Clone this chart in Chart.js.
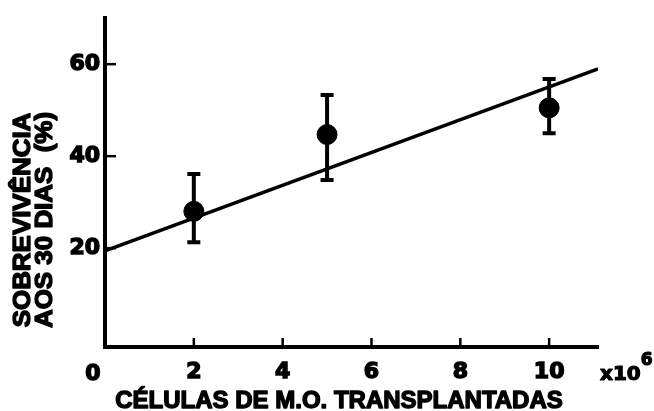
<!DOCTYPE html>
<html><head><meta charset="utf-8">
<script src="https://cdn.jsdelivr.net/npm/chart.js@4"></script>
<style>html,body{margin:0;background:#fff}#wrap{width:654px;height:411px;position:relative}</style>
</head><body><div id="wrap"><canvas id="c"></canvas></div>
<script>
// Dose (x10^6 marrow cells) vs 30-day survival (%)
const doses = [2, 5, 10];
const survival = [28, 44.7, 50.5];
const errLow = [21.3, 34.8, 45];
const errHigh = [36.1, 53.3, 56.8];
// fitted regression line end points
const fitX = [0, 11.1];
const fitY = [19.4, 59];
const xTickValues = [2, 4, 6, 8, 10];
const yTickValues = [20, 40, 60];
const xTitle = 'CÉLULAS DE M.O. TRANSPLANTADAS';
const yTitle = ['SOBREVIVÊNCIA', 'AOS 30 DIAS  (%)'];
const xUnit = 'x10';
const xUnitExp = '6';

const INK = '#000';
const tickFont = { family: '"DejaVu Sans", sans-serif', size: 22, weight: 'bold' };
const titleFamily = '"Liberation Sans", Arial, sans-serif';

const errorSets = doses.map((d, i) => ({
  type: 'line',
  data: [{ x: d, y: errLow[i] }, { x: d, y: errHigh[i] }],
  borderColor: INK,
  borderWidth: 4,
  pointStyle: 'line',
  pointRadius: 6.5,
  pointBorderWidth: 4,
  pointBorderColor: INK,
  showLine: true
}));

// heavy text: fill plus a thin outline
function heavyText(ctx, text, x, y, sw) {
  ctx.lineWidth = sw;
  ctx.lineJoin = 'round';
  ctx.strokeText(text, x, y);
  ctx.fillText(text, x, y);
}

// inner tick marks, origin label, unit and axis titles
const decor = {
  id: 'decor',
  afterDraw(chart) {
    const { ctx, chartArea: a, scales: { x, y } } = chart;
    ctx.save();
    ctx.strokeStyle = INK;
    ctx.fillStyle = INK;
    ctx.lineWidth = 2.5;
    xTickValues.forEach(v => {
      const px = x.getPixelForValue(v);
      ctx.beginPath(); ctx.moveTo(px, a.bottom); ctx.lineTo(px, a.bottom - 9); ctx.stroke();
    });
    yTickValues.forEach(v => {
      const py = y.getPixelForValue(v);
      ctx.beginPath(); ctx.moveTo(a.left, py); ctx.lineTo(a.left + 11, py); ctx.stroke();
    });
    ctx.font = `bold ${tickFont.size}px ${tickFont.family}`;
    ctx.textBaseline = 'alphabetic';
    ctx.textAlign = 'center';
    heavyText(ctx, '0', x.getPixelForValue(0) - 12, 380, 1.5);
    ctx.textAlign = 'left';
    ctx.font = `bold 20px ${tickFont.family}`;
    heavyText(ctx, xUnit, 600, 380, 1.2);
    const w = ctx.measureText(xUnit).width;
    ctx.font = `bold 17px ${tickFont.family}`;
    heavyText(ctx, xUnitExp, 600 + w, 365, 1.2);

    ctx.font = `bold 24px ${titleFamily}`;
    ctx.textAlign = 'center';
    heavyText(ctx, xTitle, 339, 408, 1.4);
    ctx.textBaseline = 'middle';
    yTitle.forEach((line, i) => {
      ctx.save();
      ctx.translate(23.5 + i * 21.5, 220);
      ctx.rotate(-Math.PI / 2);
      ctx.scale(1.08, 1);
      heavyText(ctx, line, 0, 0, 1.4);
      ctx.restore();
    });
    ctx.restore();
  }
};

new Chart(document.getElementById('c'), {
  type: 'scatter',
  data: {
    datasets: [
      {
        type: 'line',
        data: fitX.map((v, i) => ({ x: v, y: fitY[i] })),
        borderColor: INK,
        borderWidth: 3.5,
        pointRadius: 0,
        showLine: true
      },
      ...errorSets,
      {
        data: doses.map((d, i) => ({ x: d, y: survival[i] })),
        backgroundColor: INK,
        borderColor: INK,
        pointRadius: 10,
        pointHoverRadius: 10
      }
    ]
  },
  options: {
    responsive: true,
    maintainAspectRatio: false,
    animation: false,
    layout: { padding: { left: 0, top: 15, right: 56, bottom: 0 } },
    plugins: { legend: { display: false }, tooltip: { enabled: false } },
    scales: {
      x: {
        type: 'linear', min: 0, max: 11.1,
        grid: { display: false, drawTicks: false },
        border: { display: true, color: INK, width: 4 },
        ticks: {
          stepSize: 2, includeBounds: false, padding: 12, color: INK, font: tickFont,
          textStrokeColor: INK, textStrokeWidth: 1.5,
          callback: v => (v === 0 ? '' : v)
        },
        afterFit(s) { s.height = 64; }
      },
      y: {
        min: -1.5, max: 70,
        grid: { display: false, drawTicks: false },
        border: { display: true, color: INK, width: 4 },
        ticks: {
          stepSize: 20, includeBounds: false, padding: 5, color: INK, font: tickFont,
          textStrokeColor: INK, textStrokeWidth: 1.5,
          callback: v => (v === 0 ? '' : v)
        },
        afterFit(s) { s.width = 105; }
      }
    }
  },
  plugins: [decor]
});
</script>
</body></html>
